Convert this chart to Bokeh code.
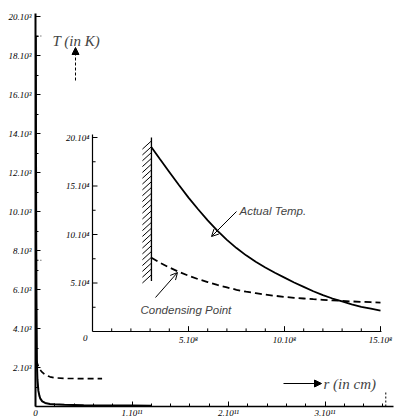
import numpy as np
from bokeh.plotting import figure
from bokeh.models import (Range1d, FixedTicker, Label, Arrow, NormalHead, OpenHead)
from bokeh.core.properties import value
from bokeh.embed import file_html
from bokeh.resources import INLINE

# ---------------- data ----------------
# main chart: r in cm, T in K
r_actual = [0.003e11, 0.005e11, 0.007e11, 0.01e11, 0.015e11, 0.02e11, 0.03e11, 0.04e11,
            0.05e11, 0.07e11, 0.1e11, 0.15e11, 0.2e11, 0.3e11, 0.5e11, 0.7e11, 1.0e11, 1.2e11]
T_actual = [19000, 13600, 9100, 5500, 2150, 1400, 800, 560,
            400, 260, 180, 130, 110, 90, 70, 55, 45, 40]
r_cond = [0.01e11, 0.03e11, 0.06e11, 0.1e11, 0.15e11, 0.2e11, 0.3e11, 0.45e11, 0.69e11]
T_cond = [2350, 2050, 1800, 1620, 1520, 1470, 1440, 1430, 1430]
T_marks = [19000, 7500]
r_limit = 3.63e11

# inset: r in cm, T in K (as labelled)
ri_actual = [3.07e8, 3.5e8, 4e8, 4.5e8, 5e8, 5.5e8, 6e8, 6.5e8, 7e8, 7.5e8, 8e8, 8.5e8,
             9e8, 9.5e8, 10e8, 10.5e8, 11e8, 11.5e8, 12e8, 12.5e8, 13e8, 13.5e8, 14e8,
             14.5e8, 15e8]
Ti_actual = [19.0e4, 17.8e4, 16.45e4, 15.1e4, 13.8e4, 12.6e4, 11.45e4, 10.4e4, 9.45e4,
             8.6e4, 7.85e4, 7.2e4, 6.6e4, 6.05e4, 5.55e4, 5.05e4, 4.6e4, 4.15e4, 3.75e4,
             3.4e4, 3.1e4, 2.8e4, 2.55e4, 2.35e4, 2.15e4]
ri_cond = ri_actual
Ti_cond = [7.6e4, 7.1e4, 6.6e4, 6.15e4, 5.75e4, 5.4e4, 5.1e4, 4.8e4, 4.55e4, 4.3e4,
           4.1e4, 3.95e4, 3.8e4, 3.68e4, 3.57e4, 3.47e4, 3.4e4, 3.33e4, 3.27e4, 3.21e4,
           3.16e4, 3.1e4, 3.06e4, 3.02e4, 2.98e4]
r_wall = 3.07e8

main_yticks = [2000, 4000, 6000, 8000, 10000, 12000, 14000, 16000, 18000, 20000]
main_ylabels = ["2.10³", "4.10³", "6.10³", "8.10³", "10.10³", "12.10³", "14.10³",
                "16.10³", "18.10³", "20.10³"]
main_xticks = [0, 1e11, 2e11, 3e11]
main_xlabels = ["0", "1.10¹¹", "2.10¹¹", "3.10¹¹"]
inset_yticks = [5e4, 10e4, 15e4, 20e4]
inset_ylabels = ["5.10⁴", "10.10⁴", "15.10⁴", "20.10⁴"]
inset_xticks = [5e8, 10e8, 15e8]
inset_xlabels = ["5.10⁸", "10.10⁸", "15.10⁸"]

# ---------------- geometry helpers ----------------
LEFT, TOP = 35, 13
FW, FH = 358, 393
AXIS_Y = TOP + FH            # page pixel of T = 0
PX_PER_K = 19.5 / 1000        # 20000 K -> 390 px
PX_PER_CM = 96.5 / 1e11
X_END = FW / PX_PER_CM
Y_END = FH / PX_PER_K

def X(px):   # page pixel x -> main data
    return (px - LEFT) / PX_PER_CM

def T(py):   # page pixel y -> main data
    return (AXIS_Y - py) / PX_PER_K

def ix_of_X(x):
    px = LEFT + x * PX_PER_CM
    return (px - 92) / 19.2 * 1e8

def iy_of_T(t):
    py = AXIS_Y - t * PX_PER_K
    return (331 - py) / 9.7 * 1e4

p = figure(frame_width=FW, frame_height=FH, x_range=Range1d(0, X_END),
           y_range=Range1d(0, Y_END), output_backend="svg", toolbar_location=None,
           min_border_left=LEFT, min_border_right=3, min_border_top=TOP, min_border_bottom=0)
p.extra_x_ranges = {"ix": Range1d(ix_of_X(0), ix_of_X(X_END))}
p.extra_y_ranges = {"iy": Range1d(iy_of_T(0), iy_of_T(Y_END))}
p.grid.visible = False
p.outline_line_color = None
p.background_fill_color = "white"

SERIF = "Liberation Serif"

# main axes
p.yaxis.ticker = FixedTicker(ticks=main_yticks, minor_ticks=list(range(1000, 20000, 1000)))
p.yaxis.major_label_overrides = {t: l for t, l in zip(main_yticks, main_ylabels)}
p.xaxis.ticker = FixedTicker(ticks=main_xticks,
                             minor_ticks=[i * 0.2e11 for i in range(1, 19)])
p.xaxis.major_label_overrides = {t: l for t, l in zip(main_xticks, main_xlabels)}
for ax in (p.xaxis[0], p.yaxis[0]):
    ax.major_tick_in = 5
    ax.major_tick_out = 0
    ax.minor_tick_in = 3
    ax.minor_tick_out = 0
    ax.axis_line_color = "black"
    ax.major_tick_line_color = "black"
    ax.minor_tick_line_color = "black"
    ax.major_label_text_font = SERIF
    ax.major_label_text_font_style = "italic"
    ax.major_label_text_font_size = "9px"
    ax.major_label_text_color = "black"
p.yaxis.axis_line_width = 2
p.xaxis.axis_line_width = 1.3
p.yaxis.major_label_standoff = 4
p.xaxis.major_label_standoff = 1

# main curves
p.line(r_actual, T_actual, line_color="black", line_width=2)
p.line(r_cond, T_cond, line_color="black", line_width=1.6, line_dash="6 4")
p.segment(x0=[0, 0], y0=T_marks, x1=[0.06e11, 0.06e11], y1=T_marks,
          line_color="black", line_width=1, line_dash="3 2")
p.segment(x0=[r_limit], y0=[0], x1=[r_limit], y1=[800], line_color="black",
          line_width=1, line_dash="2 2")

# inset axes (drawn in inset scales)
kw = dict(x_range_name="ix", y_range_name="iy")
p.segment(x0=[0, 0], y0=[0, 0], x1=[0, 15.05e8], y1=[20.3e4, 0], line_color="black",
          line_width=1.2, **kw)
ytk = inset_yticks
p.segment(x0=[0] * len(ytk), y0=ytk, x1=[0.26e8] * len(ytk), y1=ytk,
          line_color="black", line_width=1, **kw)
ymin = [2.5e4, 7.5e4, 12.5e4, 17.5e4]
p.segment(x0=[0] * 4, y0=ymin, x1=[0.16e8] * 4, y1=ymin, line_color="black",
          line_width=1, **kw)
p.segment(x0=inset_xticks, y0=[0] * 3, x1=inset_xticks, y1=[0.55e4] * 3,
          line_color="black", line_width=1, **kw)
xmin = [i * 1e8 for i in range(1, 15) if i % 5]
p.segment(x0=xmin, y0=[0] * len(xmin), x1=xmin, y1=[0.32e4] * len(xmin),
          line_color="black", line_width=1, **kw)
p.text(x=[0] * 4, y=inset_yticks, text=inset_ylabels, text_font=value(SERIF),
       text_font_style="italic", text_font_size="9px", text_align="right",
       text_baseline="middle", x_offset=-3, **kw)
p.text(x=inset_xticks, y=[0] * 3, text=inset_xlabels, text_font=value(SERIF),
       text_font_style="italic", text_font_size="9px", text_align="center",
       text_baseline="top", y_offset=3, **kw)
p.text(x=[0], y=[0], text=["0"], text_font=value(SERIF), text_font_style="italic",
       text_font_size="9px", text_align="right", text_baseline="top",
       x_offset=-5, y_offset=3, **kw)

# wall with hatching
p.segment(x0=[r_wall], y0=[5.2e4], x1=[r_wall], y1=[20.0e4], line_color="black",
          line_width=1.3, **kw)
hy = np.arange(5.0e4, 19.3e4, 0.6e4)
p.segment(x0=[r_wall - 0.47e8] * len(hy), y0=hy, x1=[r_wall] * len(hy), y1=hy + 0.85e4,
          line_color="black", line_width=1, **kw)

# inset curves
p.line(ri_actual, Ti_actual, line_color="black", line_width=1.8, **kw)
p.line(ri_cond, Ti_cond, line_color="black", line_width=1.8, line_dash="7 4", **kw)

# annotations
p.add_layout(Label(x=X(52), y=T(40), text="T (in K)", text_font=SERIF,
                   text_font_style="italic", text_font_size="15px",
                   text_baseline="middle"))
p.add_layout(Arrow(x_start=X(75), y_start=T(80), x_end=X(75), y_end=T(47),
                   line_dash="3 2", line_width=1,
                   end=NormalHead(size=7, fill_color="black", line_color="black")))
p.add_layout(Arrow(x_start=X(283), y_start=T(383), x_end=X(321), y_end=T(383),
                   line_width=1.2,
                   end=NormalHead(size=7, fill_color="black", line_color="black")))
p.add_layout(Label(x=X(323), y=T(383), text="r (in cm)", text_font=SERIF,
                   text_font_style="italic", text_font_size="15px",
                   text_baseline="middle"))
p.add_layout(Label(x=X(239), y=T(210), text="Actual Temp.", text_font="Liberation Sans",
                   text_font_style="italic", text_font_size="11.5px",
                   text_baseline="middle"))
p.add_layout(Arrow(x_start=X(236), y_start=T(211), x_end=X(211), y_end=T(236),
                   line_width=1, end=OpenHead(size=7, line_width=1)))
p.add_layout(Label(x=X(140), y=T(309), text="Condensing Point",
                   text_font="Liberation Sans", text_font_style="italic",
                   text_font_size="11.5px", text_baseline="middle"))
p.add_layout(Arrow(x_start=X(155), y_start=T(297), x_end=X(177), y_end=T(272),
                   line_width=1, end=OpenHead(size=7, line_width=1)))

open("out.html", "w").write(file_html(p, INLINE))
